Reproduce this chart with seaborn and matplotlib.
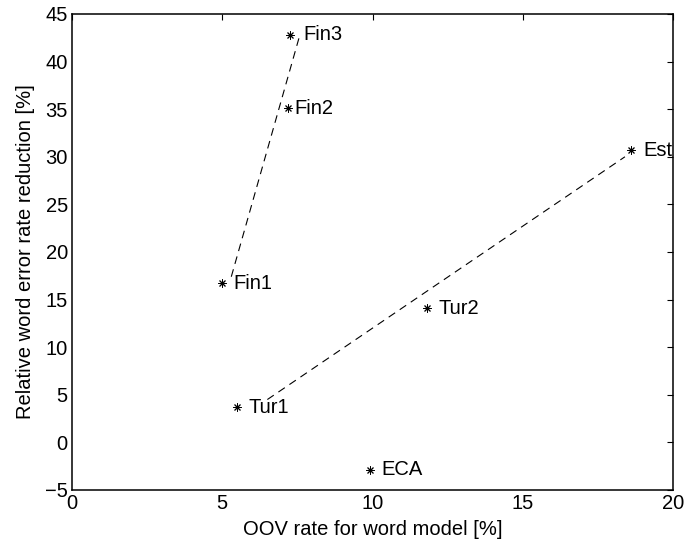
import numpy as np
import pandas as pd
import seaborn as sns
import matplotlib.pyplot as plt

# data
labels = ["Fin1", "Fin2", "Fin3", "Tur1", "Tur2", "Est", "ECA"]
oov_rate = [5.0, 7.2, 7.25, 5.5, 11.8, 18.6, 9.9]
wer_reduction = [16.7, 35.1, 42.8, 3.7, 14.1, 30.7, -2.9]

# dashed trend lines
fin_line_x = [5.3, 7.6]
fin_line_y = [17.4, 43.0]
tur_line_x = [6.5, 18.4]
tur_line_y = [4.5, 30.0]

# label offsets in pixels (to the right of each point)
label_dx = [11, 6, 13, 11, 12, 12, 12]

sns.set_style("white")
plt.rcParams['font.family'] = ['Liberation Sans', 'DejaVu Sans']
plt.rcParams['text.color'] = 'black'
plt.rcParams['axes.labelcolor'] = 'black'

fig = plt.figure(figsize=(6.88, 5.46), dpi=100)
ax = fig.add_axes([0.1047, 0.1026, 0.8735, 0.8718])

df = pd.DataFrame({"oov": oov_rate, "wer": wer_reduction, "name": labels})

for lx, ly in [(fin_line_x, fin_line_y), (tur_line_x, tur_line_y)]:
    sns.lineplot(x=lx, y=ly, ax=ax, color="black", linestyle=(0, (7, 5)),
                 linewidth=0.8, sort=False, estimator=None)
sns.scatterplot(data=df, x="oov", y="wer", ax=ax, marker=(8, 2, 0), s=28,
                color="black", linewidth=0.7, edgecolor="black")

for i in range(len(labels)):
    ax.annotate(labels[i], (oov_rate[i], wer_reduction[i]),
                xytext=(label_dx[i] * 0.72, 0), textcoords="offset points",
                ha="left", va="center", fontsize=14.5, color="black")

ax.set_xlim(0, 20)
ax.set_ylim(-5, 45)
ax.set_xticks([0, 5, 10, 15, 20])
ax.set_yticks(np.arange(-5, 46, 5))
ax.tick_params(direction="in", length=4, width=0.8, top=True, right=True,
               labelsize=14.5, colors="black", pad=3)
for s in ax.spines.values():
    s.set_color("black")
    s.set_linewidth(1.1)

ax.set_xlabel("OOV rate for word model [%]", fontsize=14.5, labelpad=5)
ax.set_ylabel("Relative word error rate reduction [%]", fontsize=14.5, labelpad=7)

fig.savefig("out.png", dpi=100)
